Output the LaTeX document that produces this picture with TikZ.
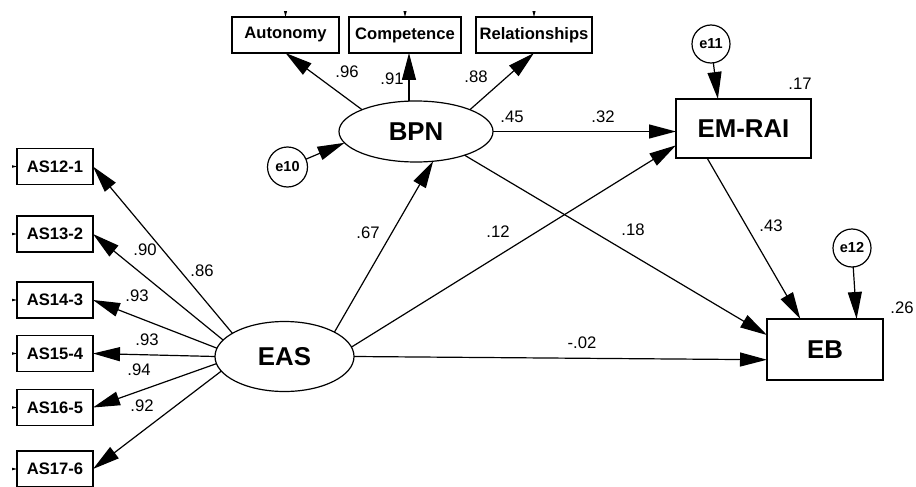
\documentclass[tikz,border=0pt]{standalone}
\usepackage{fontspec}
\setmainfont{Liberation Sans}
\usetikzlibrary{arrows.meta,shapes.geometric}
\begin{document}
\begin{tikzpicture}[x=1pt,y=-1pt,
  every node/.style={inner sep=0pt,outer sep=0pt},
  obs/.style={draw,line width=1.3pt,rectangle,minimum height=36pt,
    font=\fontsize{16.6}{18}\selectfont\bfseries},
  bigbox/.style={draw,line width=1.3pt,rectangle,
    font=\fontsize{25.8}{28}\selectfont\bfseries},
  latent/.style={draw,line width=1.2pt,ellipse,
    font=\fontsize{25.8}{28}\selectfont\bfseries},
  err/.style={draw,line width=1.2pt,circle,
    font=\fontsize{14.5}{16}\selectfont\bfseries},
  coef/.style={font=\fontsize{16.7}{18}\selectfont},
  link/.style={line width=1.2pt,-{Triangle[length=27pt,width=14pt]}},
]
\useasboundingbox (0,0) rectangle (916,487);

% indicators of BPN
\node[obs,minimum width=107pt] (Aut) at (285.5,35) {Autonomy};
\node[obs,minimum width=112pt] (Comp) at (405,35) {Competence};
\node[obs,minimum width=116pt] (Rel) at (534,35) {Relationships};

% indicators of EAS
\node[obs,minimum width=76pt] (A1) at (55,166.5) {AS12-1};
\node[obs,minimum width=76pt] (A2) at (55,234) {AS13-2};
\node[obs,minimum width=76pt] (A3) at (55,300) {AS14-3};
\node[obs,minimum width=76pt] (A4) at (55,353.5) {AS15-4};
\node[obs,minimum width=76pt] (A5) at (55,407.5) {AS16-5};
\node[obs,minimum width=76pt] (A6) at (55,469) {AS17-6};

% latent variables
\node[latent,minimum width=154pt,minimum height=61pt] (BPN) at (416,131.5) {BPN};
\node[latent,minimum width=139pt,minimum height=70pt] (EAS) at (284.5,356.5) {EAS};

% outcomes
\node[bigbox,minimum width=135pt,minimum height=59pt] (EMRAI) at (743.5,128.5) {EM-RAI};
\node[bigbox,minimum width=116pt,minimum height=61pt] (EB) at (825,349.5) {EB};

% residuals
\node[err,minimum size=40pt] (e10) at (287.5,167) {e10};
\node[err,minimum size=38pt] (e11) at (711,44) {e11};
\node[err,minimum size=38pt] (e12) at (852,248) {e12};

% error terms of the indicators (ends outside the frame)
\begin{scope}
  \clip (12,12) rectangle (916,487);
  \foreach \b in {Aut,Comp,Rel}{
    \coordinate (\b-in) at ([yshift=40pt]\b.north);
    \draw[link] (\b-in) -- (\b.north);
  }
  \foreach \b in {A1,A2,A3,A4,A5,A6}{
    \coordinate (\b-in) at ([xshift=-40pt]\b.west);
    \draw[link] (\b-in) -- (\b.west);
  }
\end{scope}

% loadings
\draw[link] (BPN.158) -- (Aut.south);
\draw[link] (BPN.103) -- (BPN.103 |- Comp.south);
\draw[link] (BPN.22.6) -- (Rel.south);
\draw[link] (EAS.156) -- (A1.east);
\draw[link] (EAS.165) -- (A2.east);
\draw[link] (EAS.173) -- (A3.east);
\draw[link] (EAS.180) -- (A4.east);
\draw[link] (EAS.186) -- (A5.east);
\draw[link] (EAS.193) -- (A6.east);

% structural paths
\draw[link] (EAS.26) -- (BPN.300);
\draw[link] (EAS.8.4) -- (EMRAI.194.5);
\draw[link] (EAS.east) -- (EB.190);
\draw[link] (BPN.east) -- (BPN.east -| EMRAI.west);
\draw[link] (BPN.334) -- (EB.166);
\draw[link] (EMRAI.219) -- (EB.129);
\draw[link] (e10) -- (BPN.189);
\draw[link] (e11) -- (EMRAI.131);
\draw[link] (e12) -- (EB.44);

% estimates
\node[coef] (c1) at (347,72) {.96};
\node[coef] (c2) at (392,79) {.91};
\node[coef] (c3) at (476,77) {.88};
\node[coef] (c4) at (512,117) {.45};
\node[coef] (c5) at (603,117) {.32};
\node[coef] (c6) at (368,233) {.67};
\node[coef] (c7) at (498,232) {.12};
\node[coef] (c8) at (633,230) {.18};
\node[coef] (c9) at (771,226) {.43};
\node[coef] (c10) at (582,343) {-.02};
\node[coef] (c11) at (145,250) {.90};
\node[coef] (c12) at (202,271) {.86};
\node[coef] (c13) at (137,296) {.93};
\node[coef] (c14) at (147,340) {.93};
\node[coef] (c15) at (139,370) {.94};
\node[coef] (c16) at (142,406) {.92};
\node[coef] (c17) at (800,84) {.17};
\node[coef] (c18) at (902,308) {.26};
\end{tikzpicture}
\end{document}
